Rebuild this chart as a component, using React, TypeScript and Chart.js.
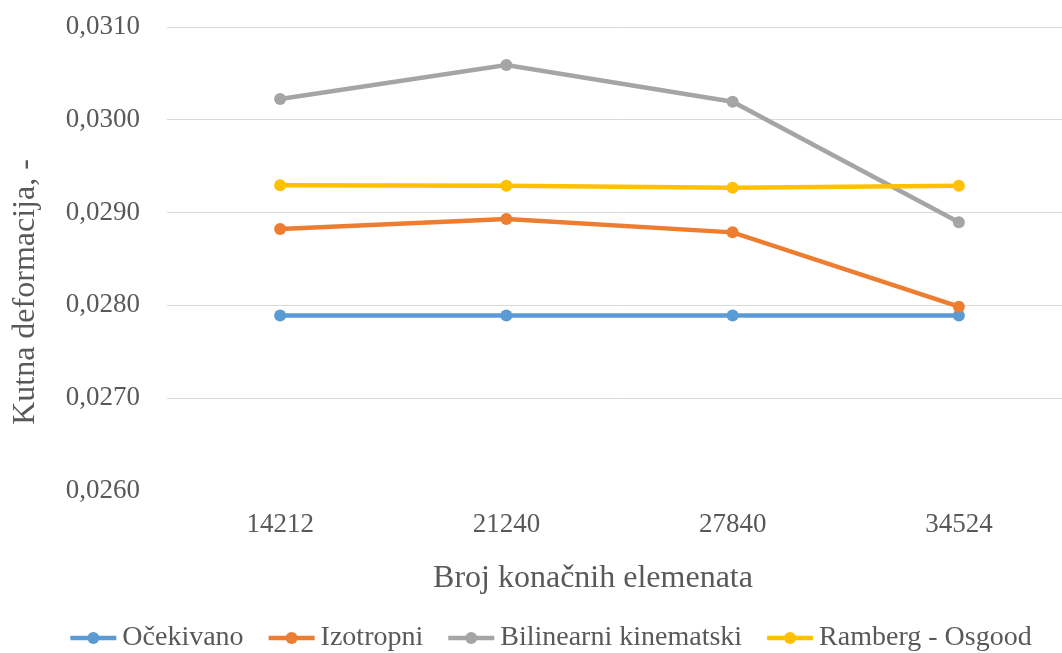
import React, { useEffect, useRef } from 'react';
import { Chart, registerables } from 'chart.js';

Chart.register(...registerables);

const categories = ['14212', '21240', '27840', '34524'];
const seriesNames = ['Očekivano', 'Izotropni', 'Bilinearni kinematski', 'Ramberg - Osgood'];
const ocekivano = [0.02789, 0.02789, 0.02789, 0.02789];
const izotropni = [0.028823, 0.028931, 0.028787, 0.027986];
const bilinearni = [0.030224, 0.030591, 0.030195, 0.028895];
const ramberg = [0.029294, 0.02929, 0.029268, 0.02929];
const seriesColors = ['#5B9BD5', '#ED7D31', '#A5A5A5', '#FFC000'];
const yMin = 0.026;
const yMax = 0.031;
const yStep = 0.001;
const xTitle = 'Broj konačnih elemenata';
const yTitle = 'Kutna deformacija, -';

const FONT = '"Liberation Serif", "Times New Roman", serif';
const TEXT = '#595959';

// Excel-like legend (line with a dot) and axis titles placed as in the original.
const decorPlugin = {
  id: 'excelDecor',
  afterDraw(chart: any) {
    const ctx = chart.ctx as CanvasRenderingContext2D;
    ctx.save();
    ctx.textBaseline = 'middle';
    ctx.fillStyle = TEXT;

    // axis titles
    ctx.font = `32px ${FONT}`;
    ctx.textAlign = 'center';
    ctx.fillText(xTitle, 593, 579);
    ctx.save();
    ctx.translate(26, 292);
    ctx.rotate(-Math.PI / 2);
    ctx.fillText(yTitle, 0, 0);
    ctx.restore();

    // legend
    ctx.font = `28px ${FONT}`;
    ctx.textAlign = 'left';
    const lineLen = 46;
    const gapText = 6;
    const gapItem = 25;
    const items = chart.data.datasets.map((ds: any) => ({
      label: ds.label as string,
      color: ds.borderColor as string,
      w: ctx.measureText(ds.label).width,
    }));
    const total =
      items.reduce((s: number, it: any) => s + lineLen + gapText + it.w, 0) +
      gapItem * (items.length - 1);
    let x = 551 - total / 2;
    const y = 638;
    for (const it of items) {
      ctx.strokeStyle = it.color;
      ctx.lineWidth = 4.5;
      ctx.beginPath();
      ctx.moveTo(x, y);
      ctx.lineTo(x + lineLen, y);
      ctx.stroke();
      ctx.fillStyle = it.color;
      ctx.beginPath();
      ctx.arc(x + lineLen / 2, y, 6, 0, Math.PI * 2);
      ctx.fill();
      ctx.fillStyle = TEXT;
      ctx.fillText(it.label, x + lineLen + gapText, y);
      x += lineLen + gapText + it.w + gapItem;
    }
    ctx.restore();
  },
};

export default function App() {
  const ref = useRef<HTMLCanvasElement | null>(null);

  useEffect(() => {
    if (!ref.current) return;
    const allSeries = [ocekivano, izotropni, bilinearni, ramberg];
    const chart = new Chart(ref.current, {
      type: 'line',
      data: {
        labels: categories,
        datasets: allSeries.map((d, i) => ({
          label: seriesNames[i],
          data: d,
          borderColor: seriesColors[i],
          backgroundColor: seriesColors[i],
          borderWidth: 4.5,
          pointRadius: 6,
          pointHoverRadius: 6,
          pointBorderWidth: 0,
          tension: 0,
          fill: false,
          order: allSeries.length - 1 - i,
        })),
      },
      options: {
        responsive: false,
        animation: false,
        devicePixelRatio: 1,
        layout: { padding: { top: 27, bottom: 0, left: 0, right: 0 } },
        plugins: {
          legend: { display: false },
          tooltip: { enabled: false },
        },
        scales: {
          x: {
            type: 'category',
            offset: true,
            grid: { display: false, drawTicks: false },
            border: { display: false },
            ticks: {
              color: TEXT,
              font: { family: FONT, size: 27 },
              padding: 18,
              maxRotation: 0,
            },
            title: { display: false, text: xTitle },
            afterFit(scale: any) {
              scale.height = 162;
              scale.paddingLeft = 0;
              scale.paddingRight = 0;
            },
          },
          y: {
            type: 'linear',
            min: yMin,
            max: yMax,
            grid: {
              drawTicks: false,
              lineWidth: 1,
              color: (c: any) =>
                c.tick && c.tick.value < yMin + yStep / 2 ? 'rgba(0,0,0,0)' : '#D9D9D9',
            },
            border: { display: false },
            ticks: {
              stepSize: yStep,
              color: TEXT,
              font: { family: FONT, size: 27 },
              padding: 27,
              callback: (v: any) => Number(v).toFixed(4).replace('.', ','),
            },
            title: { display: false, text: yTitle },
            afterFit(scale: any) {
              scale.width = 167;
              scale.paddingTop = 0;
              scale.paddingBottom = 0;
            },
          },
        },
      },
      plugins: [decorPlugin],
    });
    return () => chart.destroy();
  }, []);

  return (
    <div style={{ position: 'absolute', left: 0, top: 0, width: 1062, height: 653, overflow: 'hidden', background: '#fff' }}>
      <canvas ref={ref} width={1078} height={653} style={{ display: 'block' }} />
    </div>
  );
}
